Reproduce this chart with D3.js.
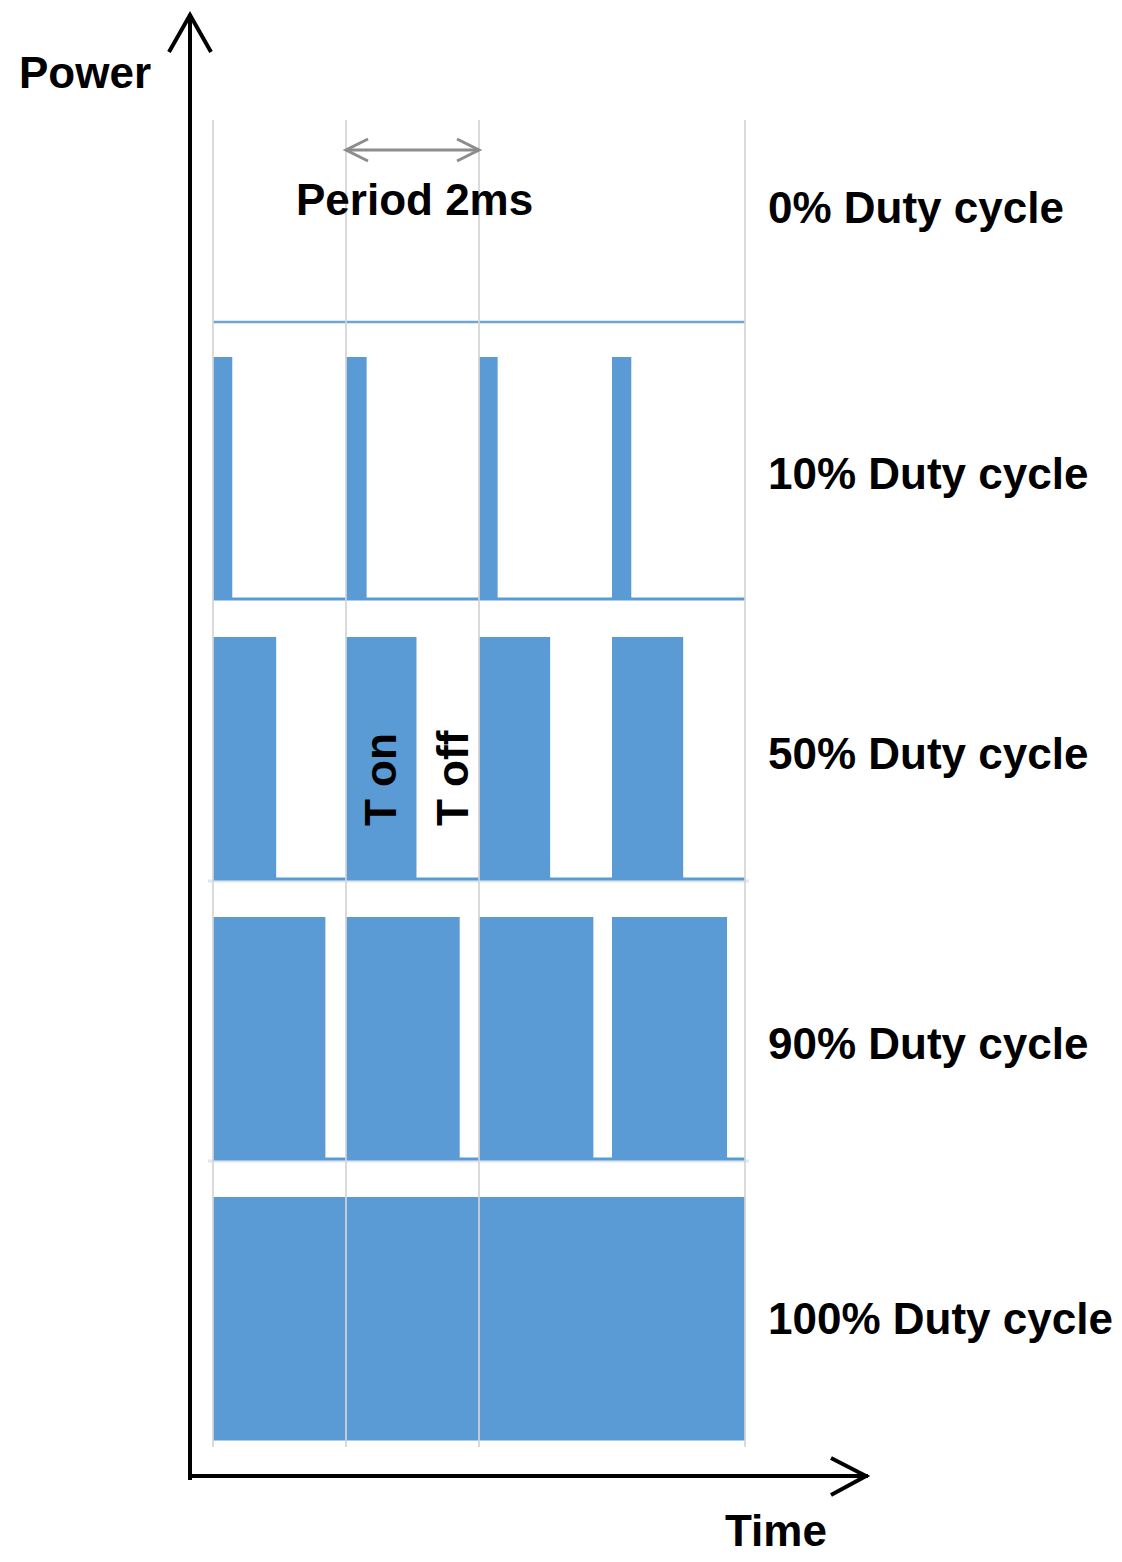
<!DOCTYPE html>
<html><head><meta charset="utf-8">
<script src="https://cdn.jsdelivr.net/npm/d3@7"></script>
<style>body{margin:0;background:#fff}svg{display:block}</style>
</head><body>
<svg id="chart" width="1122" height="1562"></svg>
<script>
// ---- data ----
const rowLabels = ["0% Duty cycle", "10% Duty cycle", "50% Duty cycle", "90% Duty cycle", "100% Duty cycle"];
const pulseStarts = [0, 2, 4, 6];            // ms, start of each period
const onTime0   = [0, 0, 0, 0];              // ms on per period
const onTime10  = [0.29, 0.31, 0.28, 0.29];
const onTime50  = [0.95, 1.06, 1.07, 1.07];
const onTime90  = [1.69, 1.71, 1.72, 1.73];
const onTime100 = [2, 2, 2, 2];
const onTimes = [onTime0, onTime10, onTime50, onTime90, onTime100];
const gridTicks = [0, 2, 4, 8];              // ms
const periodSpan = [2, 4];                   // ms
const periodLabel = "Period 2ms";
const axisLabels = {y: "Power", x: "Time"};
const pulseLabels = ["T on", "T off"];

// ---- drawing ----
const svg = d3.select("#chart");
const FONT = "'Liberation Sans', Arial, sans-serif";
const BLUE = "#5B9BD5";

const x = d3.scaleLinear().domain([0, 8]).range([213, 745]);
const row = d3.scaleBand().domain(rowLabels).range([40, 1440]);
const power = d3.scaleLinear().domain([0, 1]).range([0, -243]);
const base = r => row(r) + row.bandwidth();

// faint row separators
svg.selectAll("line.sep").data([rowLabels[2], rowLabels[3]]).join("line")
  .attr("x1", x(0) - 5).attr("x2", x(8) + 4)
  .attr("y1", d => base(d) + 1).attr("y2", d => base(d) + 1)
  .attr("stroke", "#dfe7f0").attr("stroke-width", 3);

// waveforms
rowLabels.forEach((r, i) => {
  const g = svg.append("g");
  const on = onTimes[i];
  const by = base(r) - 1 + (i === 0 ? 3 : 0);
  g.append("line")
    .attr("x1", x(0)).attr("x2", x(8))
    .attr("y1", by).attr("y2", by)
    .attr("stroke", i === 0 ? "#6fa6da" : BLUE).attr("stroke-width", i === 0 ? 2.5 : 3);
  g.selectAll("rect").data(pulseStarts.map((s, k) => ({s, w: on[k]})).filter(d => d.w > 0))
    .join("rect")
    .attr("x", d => x(d.s))
    .attr("width", d => x(d.s + d.w) - x(d.s))
    .attr("y", base(r) + power(1))
    .attr("height", -power(1))
    .attr("fill", BLUE);
});

// gridlines on top
svg.selectAll("line.grid").data(gridTicks).join("line")
  .attr("x1", d => x(d)).attr("x2", d => x(d))
  .attr("y1", 120).attr("y2", 1447)
  .attr("stroke", "#d4d4d4").attr("stroke-width", 2).attr("opacity", 0.85);

// row labels
svg.selectAll("text.row").data(rowLabels).join("text")
  .attr("x", 768)
  .attr("y", (d, i) => base(d) - [97, 111, 111, 101, 106][i])
  .attr("font-family", FONT).attr("font-weight", "bold").attr("font-size", 44)
  .attr("fill", "#000").text(d => d);

// period arrow
const py = 150, gray = "#8c8c8c";
const pa = svg.append("g").attr("stroke", gray).attr("stroke-width", 3).attr("fill", "none");
pa.append("line").attr("x1", x(periodSpan[0])).attr("x2", x(periodSpan[1])).attr("y1", py).attr("y2", py);
pa.append("path").attr("d", `M${x(periodSpan[0]) + 22},${py - 11}L${x(periodSpan[0])},${py}L${x(periodSpan[0]) + 22},${py + 11}`);
pa.append("path").attr("d", `M${x(periodSpan[1]) - 22},${py - 11}L${x(periodSpan[1])},${py}L${x(periodSpan[1]) - 22},${py + 11}`);
svg.append("text").attr("x", 296).attr("y", 215)
  .attr("font-family", FONT).attr("font-weight", "bold").attr("font-size", 44).text(periodLabel);

// T on / T off
const r50 = rowLabels[2];
const tonMid = pulseStarts[1] + onTime50[1] / 2;
const toffMid = pulseStarts[1] + onTime50[1] + (2 - onTime50[1]) / 2;
[[pulseLabels[0], tonMid, 15], [pulseLabels[1], toffMid, 20]].forEach(([t, m, dx]) => {
  const cx = x(m) + dx, cy = base(r50) - 54;
  svg.append("text").attr("transform", `translate(${cx},${cy}) rotate(-90)`)
    .attr("font-family", FONT).attr("font-weight", "bold").attr("font-size", 44).text(t);
});

// axes with arrows
const ax = svg.append("g").attr("stroke", "#000").attr("stroke-width", 4).attr("fill", "none")
  .attr("stroke-linecap", "square");
ax.append("line").attr("x1", 190).attr("x2", 190).attr("y1", 1478).attr("y2", 16);
ax.append("path").attr("d", "M169,52L190,15L211,52").attr("stroke-linecap", "butt");
ax.append("line").attr("x1", 190).attr("x2", 866).attr("y1", 1476).attr("y2", 1476);
ax.append("path").attr("d", "M831,1458L866,1476L831,1495").attr("stroke-linecap", "butt");

svg.append("text").attr("x", 19).attr("y", 88)
  .attr("font-family", FONT).attr("font-weight", "bold").attr("font-size", 44).text(axisLabels.y);
svg.append("text").attr("x", 725).attr("y", 1546)
  .attr("font-family", FONT).attr("font-weight", "bold").attr("font-size", 44).text(axisLabels.x);
</script>
</body></html>
